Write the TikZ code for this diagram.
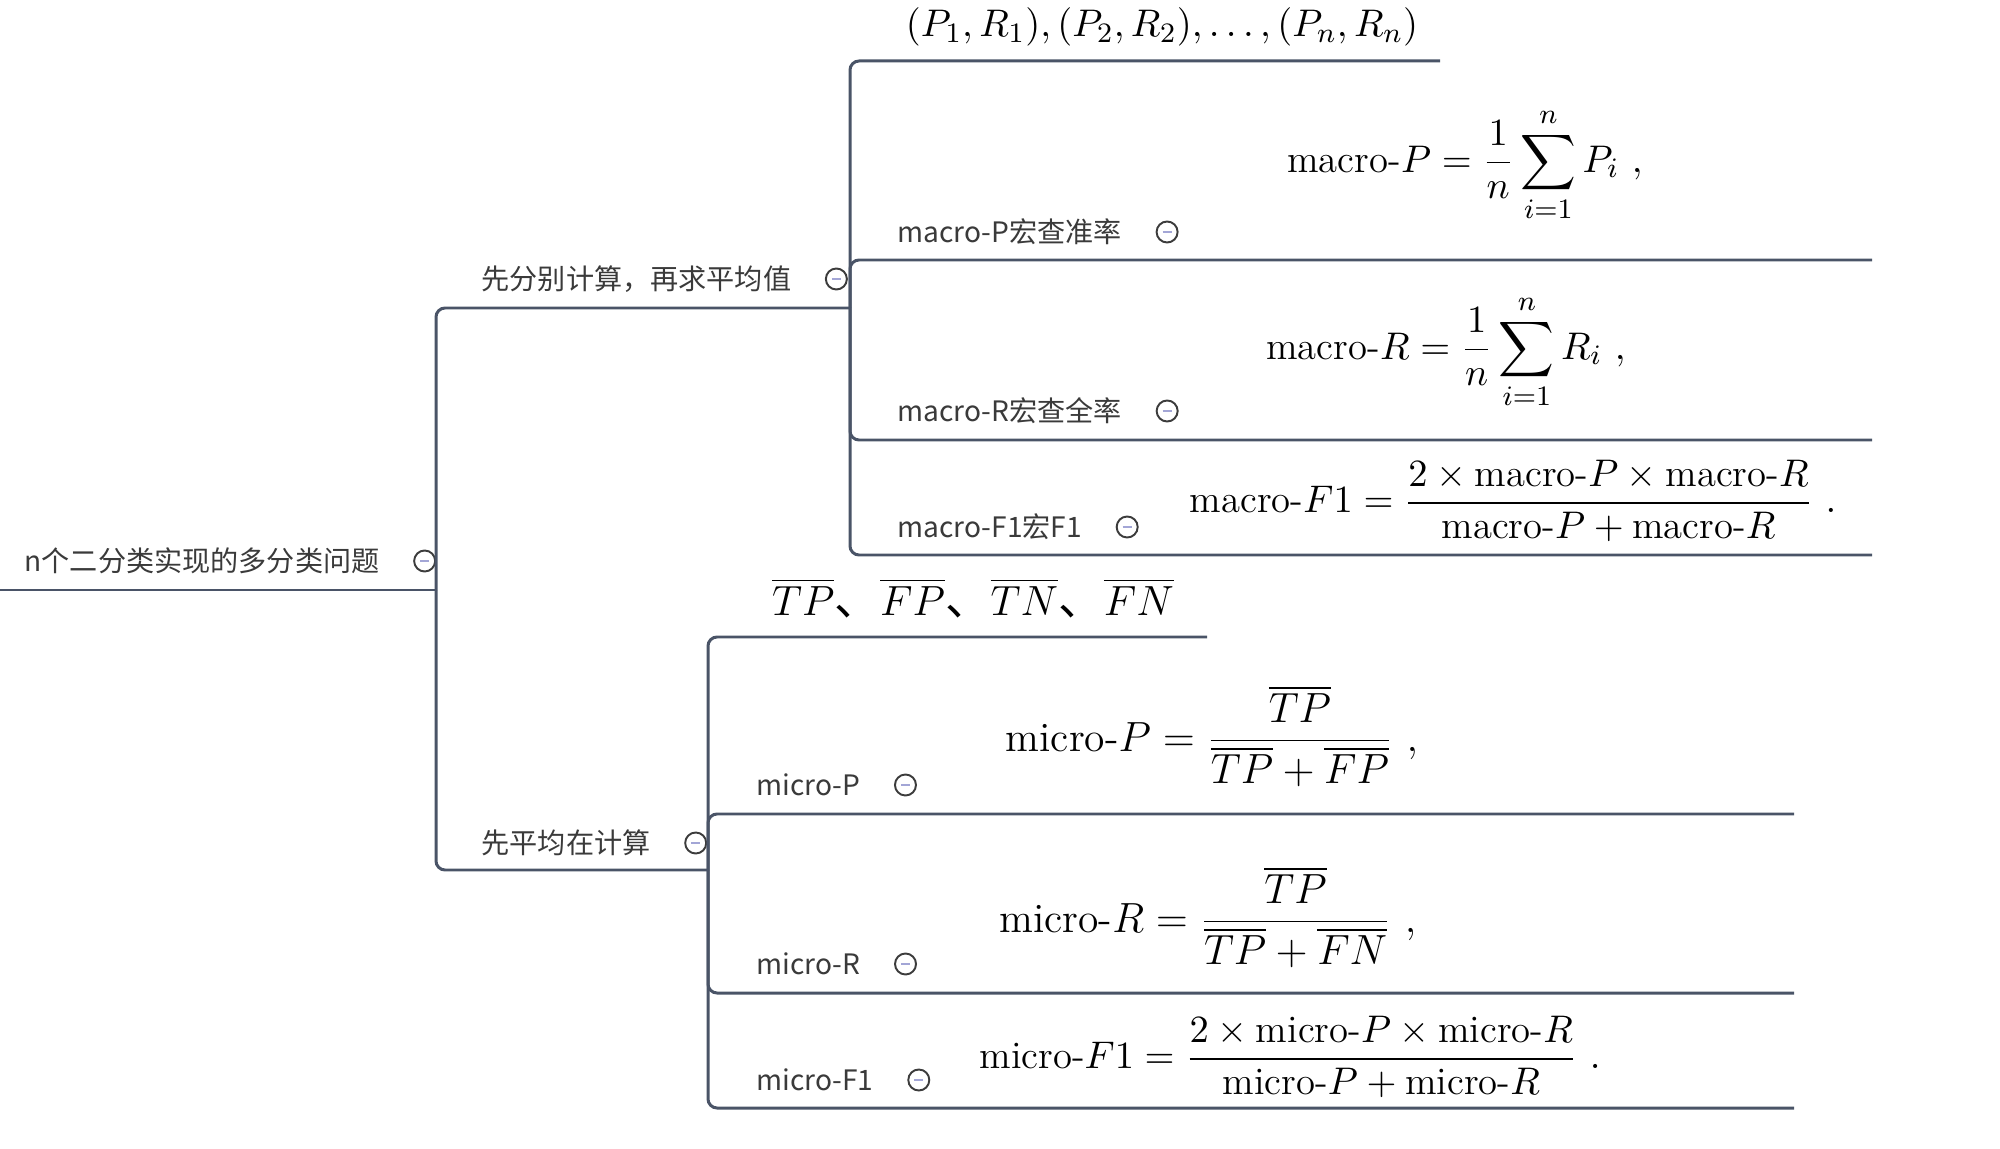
\documentclass[tikz,border=0pt]{standalone}
\usepackage{amsmath,amssymb}
\usepackage{fontspec}
\usepackage{xcolor}
\usepackage{tikz}
\usetikzlibrary{positioning,calc}
\newfontfamily\cjk{Noto Sans CJK SC}
\definecolor{linec}{HTML}{4A5467}
\definecolor{textc}{HTML}{3A3A3A}
\definecolor{iconc}{HTML}{3C3C3C}
\definecolor{dashc}{HTML}{A3A6D6}

\begin{document}
\begin{tikzpicture}[x=0.01cm, y=-0.01cm, node distance=0.33cm]
    \tikzstyle{branch} = [draw=linec, line width=0.85pt, rounded corners=0.09cm]
    \tikzstyle{topic} = [anchor=west, inner sep=0pt, text=textc, font=\cjk\fontsize{8}{10}\selectfont]
    \tikzstyle{fold} = [circle, draw=iconc, line width=0.55pt, minimum size=0.21cm, inner sep=0pt, path picture={\draw[dashc, line width=0.6pt] ([xshift=-0.045cm]path picture bounding box.center) -- ([xshift=0.045cm]path picture bounding box.center);}]
    \tikzstyle{formula} = [inner sep=0pt, font=\fontsize{11}{13}\selectfont]

    \useasboundingbox (0,0) rectangle (2000,1149);

    % topics and fold icons
    \node [topic] (root) at (24,561) {n个二分类实现的多分类问题};
    \node [fold, right=of root] (rootf) {};
    \node [topic] (first) at (481,279) {先分别计算，再求平均值};
    \node [fold, right=of first] (firstf) {};
    \node [topic] (avg) at (481,843) {先平均在计算};
    \node [fold, right=of avg] (avgf) {};

    \node [topic] (macpl) at (897,232) {macro-P宏查准率};
    \node [fold, right=of macpl] (macpf) {};
    \node [topic] (macrl) at (897,411) {macro-R宏查全率};
    \node [fold, right=of macrl] (macrf) {};
    \node [topic] (macfl) at (897,527) {macro-F1宏F1};
    \node [fold, right=of macfl] (macff) {};

    \node [topic] (micpl) at (756,785) {micro-P};
    \node [fold, right=of micpl] (micpf) {};
    \node [topic] (micrl) at (756,964) {micro-R};
    \node [fold, right=of micrl] (micrf) {};
    \node [topic] (micfl) at (756,1080) {micro-F1};
    \node [fold, right=of micfl] (micff) {};

    % formulas
    \node [formula] (pairs) at (1162,27) {$(P_1,R_1),(P_2,R_2),\ldots,(P_n,R_n)$};
    \node [formula] (macp) at (1465,165) {$\displaystyle \text{macro-}P=\frac{1}{n}\sum_{i=1}^{n}P_i\ ,$};
    \node [formula] (macr) at (1446,352) {$\displaystyle \text{macro-}R=\frac{1}{n}\sum_{i=1}^{n}R_i\ ,$};
    \node [formula] (macf) at (1513,501) {$\displaystyle \text{macro-}F1=\frac{2\times\text{macro-}P\times\text{macro-}R}{\text{macro-}P+\text{macro-}R}\ .$};
    \node [formula, font=\cjk\fontsize{13}{15}\selectfont] (tpfp) at (973,598) {$\overline{TP}$、$\overline{FP}$、$\overline{TN}$、$\overline{FN}$};
    \node [formula, font=\fontsize{11.8}{14}\selectfont] (micp) at (1212,736) {$\displaystyle \text{micro-}P=\frac{\overline{TP}}{\overline{TP}+\overline{FP}}\ ,$};
    \node [formula, font=\fontsize{11.8}{14}\selectfont] (micr) at (1208,917) {$\displaystyle \text{micro-}R=\frac{\overline{TP}}{\overline{TP}+\overline{FN}}\ ,$};
    \node [formula] (micf) at (1290,1057) {$\displaystyle \text{micro-}F1=\frac{2\times\text{micro-}P\times\text{micro-}R}{\text{micro-}P+\text{micro-}R}\ .$};

    % junctions and line ends
    \coordinate (rootend) at (0,590);
    \coordinate (j0) at (436,590);
    \coordinate (ja) at (850,308);
    \coordinate (jb) at (708,870);
    \coordinate (pairsend) at (1440,61);
    \coordinate (macpend) at (1872,260);
    \coordinate (macrend) at (1872,440);
    \coordinate (macfend) at (1872,555);
    \coordinate (tpend) at (1207,637);
    \coordinate (micpend) at (1794,814);
    \coordinate (micrend) at (1794,993);
    \coordinate (micfend) at (1794,1108);

    \draw [branch] (rootend) -- (j0);
    \draw [branch] (j0) |- (ja);
    \draw [branch] (j0) |- (jb);
    \foreach \e in {pairsend,macpend,macrend,macfend}
        \draw [branch] (ja) |- (\e);
    \foreach \e in {tpend,micpend,micrend,micfend}
        \draw [branch] (jb) |- (\e);
\end{tikzpicture}
\end{document}
